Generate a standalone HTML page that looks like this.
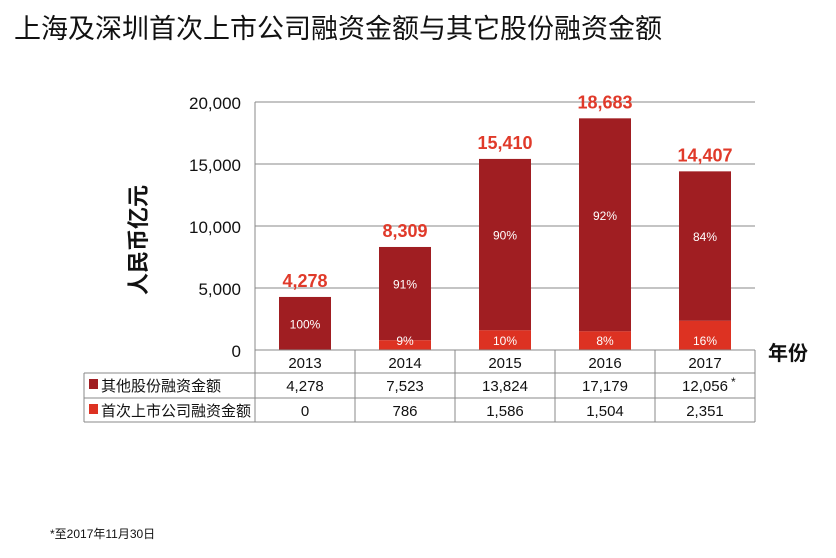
<!DOCTYPE html>
<html><head><meta charset="utf-8"><style>
body{margin:0;background:#fff;width:836px;height:553px;overflow:hidden;font-family:"Liberation Sans","Noto Sans CJK SC",sans-serif}
svg text{font-family:"Liberation Sans","Noto Sans CJK SC",sans-serif}
</style></head><body>
<svg width="836" height="553">
<text x="14" y="38" font-size="27" fill="#111">上海及深圳首次上市公司融资金额与其它股份融资金额</text>
<text transform="translate(146,240) rotate(-90)" font-size="22" font-weight="bold" text-anchor="middle" fill="#111">人民币亿元</text>
<text x="768" y="360" font-size="20" font-weight="bold" fill="#111">年份</text>
<text x="50" y="538" font-size="12" fill="#111">*至2017年11月30日</text>
<g id="grid"></g><g id="bars"></g><g id="table"></g>
</svg>
<script>
const years=['2013','2014','2015','2016','2017'];
const other=[4278,7523,13824,17179,12056];
const ipo=[0,786,1586,1504,2351];
const totals=['4,278','8,309','15,410','18,683','14,407'];
const otherPct=['100%','91%','90%','92%','84%'];
const ipoPct=['','9%','10%','8%','16%'];
const otherTxt=['4,278','7,523','13,824','17,179','12,056'];
const ipoTxt=['0','786','1,586','1,504','2,351'];
const yTicks=[0,5000,10000,15000,20000];
const NS='http://www.w3.org/2000/svg';
const L=255,R=755,Y0=350,Y1=102,MAX=20000,CW=(R-L)/years.length,BW=52;
const y=v=>Y0-(v/MAX)*(Y0-Y1);
const cx=i=>L+CW*(i+0.5);
function mk(p,t,a){const e=document.createElementNS(NS,t);for(const k in a)e.setAttribute(k,a[k]);p.appendChild(e);return e;}
const g=document.getElementById('grid'),b=document.getElementById('bars'),tb=document.getElementById('table');
yTicks.forEach(v=>{
 const l=mk(g,'line',{x1:L,x2:R,y1:y(v),y2:y(v),stroke:'#888','stroke-width':1});
 
 
 const t=mk(g,'text',{x:241,y:y(v)+7,'text-anchor':'end','font-size':17,fill:'#111'});
 t.textContent=v.toLocaleString('en-US');
 
 
});
const ax=mk(g,'line',{x1:L,x2:L,y1:Y1,y2:Y0,stroke:'#888'});


years.forEach((yr,i)=>{
 const x=cx(i)-BW/2;
 const r1=mk(b,'rect',{x:x,y:y(other[i]+ipo[i]),width:BW,height:y(ipo[i])-y(other[i]+ipo[i]),fill:'#a01e22'});
 
 
 const r2=mk(b,'rect',{x:x,y:y(ipo[i]),width:BW,height:Y0-y(ipo[i]),fill:'#dd3222'});
 
 
 const tt=mk(b,'text',{x:cx(i),y:y(other[i]+ipo[i])-10,'text-anchor':'middle','font-size':18,'font-weight':'bold',fill:'#e03a2a'});
 tt.textContent=totals[i];
 
 
 const mid=(y(other[i]+ipo[i])+y(ipo[i]))/2;
 const p1=mk(b,'text',{x:cx(i),y:i==0?mid+5:mid-5,'text-anchor':'middle','font-size':12,fill:'#fff','font-family':"'Liberation Serif',serif"});
 p1.textContent=otherPct[i];
 
 
 if(ipoPct[i]){const p2=mk(b,'text',{x:cx(i),y:Y0-5,'text-anchor':'middle','font-size':12,fill:'#fff','font-family':"'Liberation Serif',serif"});
 p2.textContent=ipoPct[i];
 
 }
});
const TL=84;
[[L,350],[TL,373],[TL,398],[TL,422]].forEach(([x1,yy])=>{mk(tb,'line',{x1:x1,x2:R,y1:yy,y2:yy,stroke:'#888'});});
mk(tb,'line',{x1:TL,x2:TL,y1:373,y2:422,stroke:'#888'});
for(let i=0;i<=years.length;i++)mk(tb,'line',{x1:L+CW*i,x2:L+CW*i,y1:350,y2:422,stroke:'#888'});
const lg1=mk(tb,'rect',{x:89,y:379,width:9,height:10,fill:'#a01e22'});


const lg2=mk(tb,'rect',{x:89,y:404,width:9,height:10,fill:'#dd3222'});


const lt1=mk(tb,'text',{x:101,y:391,'font-size':15,fill:'#111'});lt1.textContent='其他股份融资金额';


const lt2=mk(tb,'text',{x:101,y:416,'font-size':15,fill:'#111'});lt2.textContent='首次上市公司融资金额';


years.forEach((yr,i)=>{
 const a=mk(tb,'text',{x:cx(i),y:368,'text-anchor':'middle','font-size':15,fill:'#111'});a.textContent=yr;
 
 
 const c=mk(tb,'text',{x:cx(i),y:391,'text-anchor':'middle','font-size':15,fill:'#111'});c.textContent=otherTxt[i];
 
 
 const d=mk(tb,'text',{x:cx(i),y:416,'text-anchor':'middle','font-size':15,fill:'#111'});d.textContent=ipoTxt[i];
 
 
});
const st=mk(tb,'text',{x:731,y:386,'font-size':12,fill:'#111'});st.textContent='*';


</script>
</body></html>
